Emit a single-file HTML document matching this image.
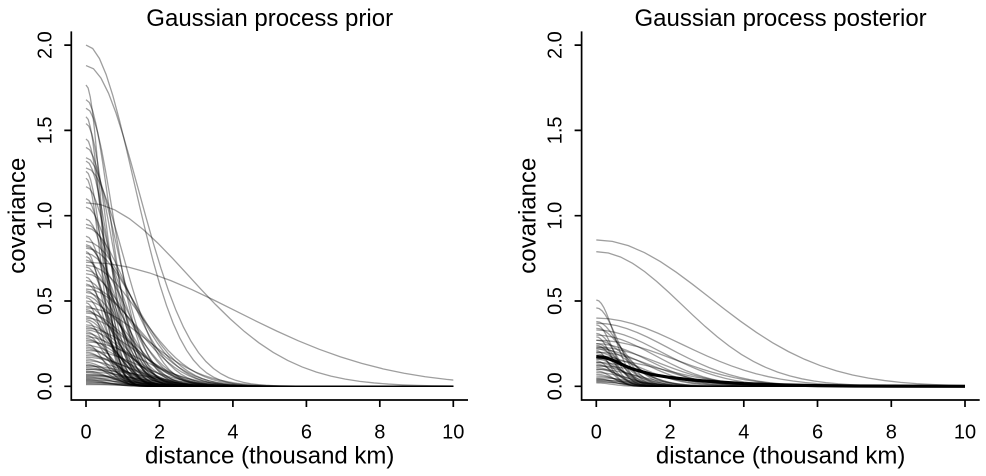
<!DOCTYPE html>
<html><head><meta charset="utf-8"><style>
html,body{margin:0;padding:0;background:#fff;}
svg{display:block;}
text{font-family:"Liberation Sans",Arial,sans-serif;fill:#000;}
</style></head><body>
<svg width="986" height="476" viewBox="0 0 986 476" xmlns="http://www.w3.org/2000/svg">
<defs>
<path id="g" vector-effect="non-scaling-stroke" fill="none" d="M0,-1L.1,-.99005L.2,-.96079L.3,-.91393L.4,-.85214L.5,-.7788L.6,-.69768L.7,-.61263L.8,-.52729L.9,-.44486L1,-.36788L1.1,-.2982L1.2,-.23693L1.3,-.18452L1.4,-.14086L1.5,-.1054L1.6,-.0773L1.7,-.05558L1.8,-.03916L1.9,-.02705L2,-.01832L2.1,-.01216L2.2,-.00791L2.3,-.00504L2.4,-.00315L2.5,-.00193L2.6,-.00116L2.8,-.00039L3,-.00012L3.3,-.00002L3.6,0L60,0"/>
<clipPath id="cl"><rect x="60" y="0" width="393.3" height="476"/></clipPath>
<clipPath id="cr"><rect x="570" y="0" width="395" height="476"/></clipPath>
</defs>
<rect width="986" height="476" fill="#fff"/>

<g clip-path="url(#cl)">
<g transform="translate(86,386.3) scale(36.73,170.6)" stroke="#000" stroke-opacity="0.38" stroke-width="1.3" fill="none">
<use href="#g" transform="scale(1.826,2.0)"/>
<use href="#g" transform="scale(2.041,1.88)"/>
<use href="#g" transform="scale(0.577,1.766)"/>
<use href="#g" transform="scale(0.913,1.68)"/>
<use href="#g" transform="scale(1.054,1.63)"/>
<use href="#g" transform="scale(0.791,1.54)"/>
<use href="#g" transform="scale(0.674,1.45)"/>
<use href="#g" transform="scale(1.195,1.34)"/>
<use href="#g" transform="scale(0.877,1.32)"/>
<use href="#g" transform="scale(1.414,1.28)"/>
<use href="#g" transform="scale(0.632,1.26)"/>
<use href="#g" transform="scale(1.0,1.17)"/>
<use href="#g" transform="scale(3.922,1.076)"/>
<use href="#g" transform="scale(5.774,0.727)"/>
<use href="#g" transform="scale(0.816,1.10)"/>
<use href="#g" transform="scale(1.118,1.05)"/>
<use href="#g" transform="scale(0.559,1.22)"/>
<use href="#g" transform="scale(1.0,1.40)"/>
<use href="#g" transform="scale(0.598,1.58)"/>
<g transform="scale(1.25,1)">
<use href="#g" transform="scale(0.745,0.98)"/>
<use href="#g" transform="scale(1.291,0.93)"/>
<use href="#g" transform="scale(0.845,0.83)"/>
<use href="#g" transform="scale(1.491,0.81)"/>
<use href="#g" transform="scale(0.535,0.79)"/>
<use href="#g" transform="scale(1.118,0.68)"/>
<use href="#g" transform="scale(0.707,0.6)"/>
<use href="#g" transform="scale(1.581,0.57)"/>
<use href="#g" transform="scale(0.953,0.53)"/>
<use href="#g" transform="scale(0.5,0.49)"/>
<use href="#g" transform="scale(1.348,0.43)"/>
<use href="#g" transform="scale(0.816,0.39)"/>
<use href="#g" transform="scale(1.195,0.33)"/>
<use href="#g" transform="scale(0.598,0.30)"/>
<use href="#g" transform="scale(1.690,0.26)"/>
<use href="#g" transform="scale(0.913,0.22)"/>
<use href="#g" transform="scale(1.291,0.18)"/>
<use href="#g" transform="scale(0.707,0.14)"/>
<use href="#g" transform="scale(1.054,0.12)"/>
<use href="#g" transform="scale(1.826,0.10)"/>
<use href="#g" transform="scale(0.791,0.08)"/>
<use href="#g" transform="scale(1.414,0.06)"/>
<use href="#g" transform="scale(0.577,0.04)"/>
<use href="#g" transform="scale(1.118,0.02)"/>
<use href="#g" transform="scale(1.054,0.95)"/>
<use href="#g" transform="scale(0.674,0.88)"/>
<use href="#g" transform="scale(1.414,0.85)"/>
<use href="#g" transform="scale(0.953,0.82)"/>
<use href="#g" transform="scale(1.195,0.78)"/>
<use href="#g" transform="scale(0.620,0.76)"/>
<use href="#g" transform="scale(0.877,0.74)"/>
<use href="#g" transform="scale(1.622,0.71)"/>
<use href="#g" transform="scale(0.725,0.70)"/>
<use href="#g" transform="scale(1.291,0.66)"/>
<use href="#g" transform="scale(0.559,0.64)"/>
<use href="#g" transform="scale(1.0,0.62)"/>
<use href="#g" transform="scale(1.491,0.59)"/>
<use href="#g" transform="scale(0.816,0.56)"/>
<use href="#g" transform="scale(1.118,0.55)"/>
<use href="#g" transform="scale(0.645,0.52)"/>
<use href="#g" transform="scale(1.291,0.50)"/>
<use href="#g" transform="scale(0.913,0.47)"/>
<use href="#g" transform="scale(1.826,0.46)"/>
<use href="#g" transform="scale(0.707,0.45)"/>
<use href="#g" transform="scale(1.054,0.44)"/>
<use href="#g" transform="scale(0.791,0.41)"/>
<use href="#g" transform="scale(1.414,0.40)"/>
<use href="#g" transform="scale(0.577,0.38)"/>
<use href="#g" transform="scale(1.155,0.36)"/>
<use href="#g" transform="scale(0.877,0.35)"/>
<use href="#g" transform="scale(1.543,0.34)"/>
<use href="#g" transform="scale(0.674,0.32)"/>
<use href="#g" transform="scale(1.0,0.31)"/>
<use href="#g" transform="scale(1.348,0.29)"/>
<use href="#g" transform="scale(0.767,0.28)"/>
<use href="#g" transform="scale(1.118,0.27)"/>
<use href="#g" transform="scale(0.535,0.25)"/>
<use href="#g" transform="scale(1.240,0.24)"/>
<use href="#g" transform="scale(0.845,0.23)"/>
<use href="#g" transform="scale(1.581,0.21)"/>
<use href="#g" transform="scale(0.707,0.20)"/>
<use href="#g" transform="scale(1.0,0.19)"/>
<use href="#g" transform="scale(1.414,0.17)"/>
<use href="#g" transform="scale(0.816,0.16)"/>
<use href="#g" transform="scale(1.195,0.15)"/>
<use href="#g" transform="scale(0.632,0.13)"/>
<use href="#g" transform="scale(1.491,0.12)"/>
<use href="#g" transform="scale(0.913,0.11)"/>
<use href="#g" transform="scale(1.118,0.10)"/>
<use href="#g" transform="scale(0.707,0.09)"/>
<use href="#g" transform="scale(1.414,0.085)"/>
<use href="#g" transform="scale(1.0,0.07)"/>
<use href="#g" transform="scale(1.826,0.065)"/>
<use href="#g" transform="scale(0.745,0.055)"/>
<use href="#g" transform="scale(1.291,0.05)"/>
<use href="#g" transform="scale(0.913,0.045)"/>
<use href="#g" transform="scale(1.581,0.035)"/>
<use href="#g" transform="scale(0.674,0.03)"/>
<use href="#g" transform="scale(1.054,0.025)"/>
<use href="#g" transform="scale(0.816,0.015)"/>
<use href="#g" transform="scale(1.414,0.01)"/>
</g>
</g>
</g>

<g stroke="#000" stroke-width="1.7" fill="none">
<path d="M71.3,31.4V400H468"/>
<path d="M64.3,386.3H71.3M64.3,301H71.3M64.3,215.7H71.3M64.3,130.4H71.3M64.3,45.1H71.3"/>
<path d="M86,400V407M159.5,400V407M232.9,400V407M306.4,400V407M379.8,400V407M453.3,400V407"/>
</g>
<text x="269.7" y="26" font-size="24" text-anchor="middle">Gaussian process prior</text>
<g font-size="20" text-anchor="middle">
<text x="86" y="438.5">0</text>
<text x="159.5" y="438.5">2</text>
<text x="232.9" y="438.5">4</text>
<text x="306.4" y="438.5">6</text>
<text x="379.8" y="438.5">8</text>
<text x="453.3" y="438.5">10</text>
<text transform="translate(51.7,386.3) rotate(-90)">0.0</text>
<text transform="translate(51.7,301) rotate(-90)">0.5</text>
<text transform="translate(51.7,215.7) rotate(-90)">1.0</text>
<text transform="translate(51.7,130.4) rotate(-90)">1.5</text>
<text transform="translate(51.7,45.1) rotate(-90)">2.0</text>
</g>
<text x="269.7" y="463.5" font-size="24" text-anchor="middle">distance (thousand km)</text>
<text transform="translate(25,215.7) rotate(-90)" font-size="24" text-anchor="middle">covariance</text>

<g clip-path="url(#cr)">
<g transform="translate(596.3,386.3) scale(36.87,170.6)" stroke="#000" stroke-opacity="0.38" stroke-width="1.3" fill="none">
<use href="#g" transform="scale(4.344,0.858)"/>
<use href="#g" transform="scale(3.279,0.789)"/>
<use href="#g" transform="scale(3.333,0.40)"/>
<use href="#g" transform="scale(2.774,0.37)"/>
<use href="#g" transform="scale(2.5,0.33)"/>
<use href="#g" transform="scale(2.236,0.30)"/>
<use href="#g" transform="scale(2.887,0.27)"/>
<use href="#g" transform="scale(2.0,0.25)"/>
<use href="#g" transform="scale(2.357,0.23)"/>
<use href="#g" transform="scale(1.826,0.22)"/>
<use href="#g" transform="scale(2.132,0.20)"/>
<use href="#g" transform="scale(1.690,0.18)"/>
<use href="#g" transform="scale(2.582,0.16)"/>
<use href="#g" transform="scale(1.890,0.14)"/>
<use href="#g" transform="scale(2.236,0.12)"/>
<use href="#g" transform="scale(1.581,0.10)"/>
<use href="#g" transform="scale(0.674,0.506)"/>
<use href="#g" transform="scale(0.791,0.46)"/>
<use href="#g" transform="scale(0.913,0.38)"/>
<use href="#g" transform="scale(0.632,0.36)"/>
<use href="#g" transform="scale(1.054,0.34)"/>
<use href="#g" transform="scale(0.745,0.31)"/>
<use href="#g" transform="scale(0.577,0.29)"/>
<use href="#g" transform="scale(1.195,0.27)"/>
<use href="#g" transform="scale(0.845,0.25)"/>
<use href="#g" transform="scale(0.707,0.24)"/>
<use href="#g" transform="scale(1.291,0.23)"/>
<use href="#g" transform="scale(1.0,0.22)"/>
<use href="#g" transform="scale(0.5,0.21)"/>
<use href="#g" transform="scale(1.118,0.20)"/>
<use href="#g" transform="scale(0.816,0.19)"/>
<use href="#g" transform="scale(0.632,0.18)"/>
<use href="#g" transform="scale(1.414,0.17)"/>
<use href="#g" transform="scale(0.913,0.16)"/>
<use href="#g" transform="scale(0.535,0.15)"/>
<use href="#g" transform="scale(1.054,0.14)"/>
<use href="#g" transform="scale(0.707,0.13)"/>
<use href="#g" transform="scale(1.291,0.12)"/>
<use href="#g" transform="scale(0.816,0.11)"/>
<use href="#g" transform="scale(1.0,0.10)"/>
<use href="#g" transform="scale(0.577,0.09)"/>
<use href="#g" transform="scale(1.195,0.08)"/>
<use href="#g" transform="scale(0.707,0.07)"/>
<use href="#g" transform="scale(0.913,0.06)"/>
<use href="#g" transform="scale(1.414,0.05)"/>
<use href="#g" transform="scale(0.632,0.045)"/>
<use href="#g" transform="scale(1.0,0.04)"/>
<use href="#g" transform="scale(1.581,0.035)"/>
<use href="#g" transform="scale(0.816,0.03)"/>
<use href="#g" transform="scale(1.118,0.025)"/>
<use href="#g" transform="scale(0.577,0.02)"/>
</g>
</g>
<path d="M596.3,356.6L605.5,357.6L614.7,361L624,365.5L633.2,369.2L651.6,374.4L670,377.4L688.5,379.6L706.9,381.2L743.8,383.6L780.7,384.9L817.5,385.6L854.4,386L891.3,386.1L965,386.3" fill="none" stroke="#000" stroke-width="3.2" stroke-linejoin="round"/>

<g stroke="#000" stroke-width="1.7" fill="none">
<path d="M581.6,31.4V400H979.7"/>
<path d="M574.6,386.3H581.6M574.6,301H581.6M574.6,215.7H581.6M574.6,130.4H581.6M574.6,45.1H581.6"/>
<path d="M596.3,400V407M670,400V407M743.8,400V407M817.5,400V407M891.3,400V407M965,400V407"/>
</g>
<text x="780.6" y="26" font-size="24" text-anchor="middle">Gaussian process posterior</text>
<g font-size="20" text-anchor="middle">
<text x="596.3" y="438.5">0</text>
<text x="670" y="438.5">2</text>
<text x="743.8" y="438.5">4</text>
<text x="817.5" y="438.5">6</text>
<text x="891.3" y="438.5">8</text>
<text x="965" y="438.5">10</text>
<text transform="translate(561.7,386.3) rotate(-90)">0.0</text>
<text transform="translate(561.7,301) rotate(-90)">0.5</text>
<text transform="translate(561.7,215.7) rotate(-90)">1.0</text>
<text transform="translate(561.7,130.4) rotate(-90)">1.5</text>
<text transform="translate(561.7,45.1) rotate(-90)">2.0</text>
</g>
<text x="780.6" y="463.5" font-size="24" text-anchor="middle">distance (thousand km)</text>
<text transform="translate(535.3,215.7) rotate(-90)" font-size="24" text-anchor="middle">covariance</text>
</svg>
</body></html>
